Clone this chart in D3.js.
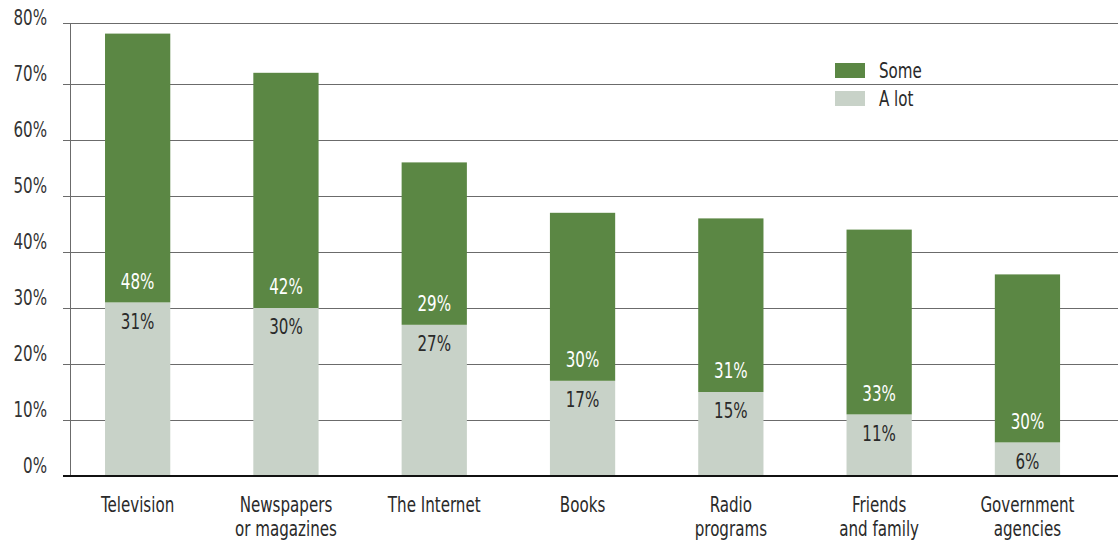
<!DOCTYPE html>
<html>
<head>
<meta charset="utf-8">
<script src="https://cdn.jsdelivr.net/npm/d3@7"></script>
<style>
  html, body { margin: 0; padding: 0; background: #fff; }
  svg text { font-family: "DejaVu Sans Condensed", "DejaVu Sans", sans-serif; }
</style>
</head>
<body>
<svg id="chart" width="1118" height="543"></svg>
<script>
// Source categories (multi-line labels split on "\n")
const categories = [
  "Television",
  "Newspapers\nor magazines",
  "The Internet",
  "Books",
  "Radio\nprograms",
  "Friends\nand family",
  "Government\nagencies"
];
// Share answering "A lot" and "Some" (percent)
const aLot = [31, 30, 27, 17, 15, 11, 6];
const some = [48, 42, 29, 30, 31, 33, 30];
const yTicks = [0, 10, 20, 30, 40, 50, 60, 70, 80];
const seriesNames = ["Some", "A lot"];

const colors = { "Some": "#5b8744", "A lot": "#c8d2c8" };

// Condensed look: squeeze glyphs horizontally
const SQUEEZE = 0.8;

const svg = d3.select("#chart");
const axisLeft = 70, plotRight = 1118, plotTop = 23;

const x = d3.scaleBand()
  .domain(categories)
  .range([63.5, 1101.6])
  .paddingInner(0.56)
  .paddingOuter(0.28);

const y = d3.scaleLinear().domain([0, 80]).range([476, 28]);

function place(sel, px, py) {
  return sel.attr("transform", (d, i) => `translate(${px(d, i)},${py(d, i)}) scale(${SQUEEZE},1)`);
}

// Grid lines (10%..70%) with short tick stubs left of the axis
const grid = svg.append("g");
grid.selectAll("line")
  .data(yTicks.filter(t => t > 0 && t < 80))
  .join("line")
  .attr("x1", 63).attr("x2", plotRight)
  .attr("y1", d => Math.round(y(d)) + 0.5).attr("y2", d => Math.round(y(d)) + 0.5)
  .attr("stroke", "#6b6b6b").attr("stroke-width", 1);

// Top frame line
grid.append("line")
  .attr("x1", 63).attr("x2", plotRight)
  .attr("y1", plotTop + 0.5).attr("y2", plotTop + 0.5)
  .attr("stroke", "#6b6b6b").attr("stroke-width", 1);

// Vertical axis line
grid.append("line")
  .attr("x1", axisLeft + 0.5).attr("x2", axisLeft + 0.5)
  .attr("y1", plotTop).attr("y2", y(0))
  .attr("stroke", "#6b6b6b").attr("stroke-width", 1);

// Y tick labels sit just above their grid line
place(
  svg.append("g").selectAll("text")
    .data(yTicks)
    .join("text")
    .attr("text-anchor", "end")
    .attr("font-size", 21)
    .attr("fill", "#333")
    .text(d => d + "%"),
  () => 47, d => y(d) - 3
);

// Stacked bars
const rows = categories.map((c, i) => ({ cat: c, aLot: aLot[i], some: some[i] }));
const bars = svg.append("g");
bars.selectAll("rect.alot")
  .data(rows)
  .join("rect")
  .attr("class", "alot")
  .attr("x", d => x(d.cat))
  .attr("width", x.bandwidth())
  .attr("y", d => y(d.aLot))
  .attr("height", d => y(0) - y(d.aLot))
  .attr("fill", colors["A lot"]);
bars.selectAll("rect.some")
  .data(rows)
  .join("rect")
  .attr("class", "some")
  .attr("x", d => x(d.cat))
  .attr("width", x.bandwidth())
  .attr("y", d => y(d.aLot + d.some))
  .attr("height", d => y(d.aLot) - y(d.aLot + d.some))
  .attr("fill", colors["Some"]);

// Value labels around the segment boundary
const cx = d => x(d.cat) + x.bandwidth() / 2;
const labels = svg.append("g").attr("font-size", 21).attr("text-anchor", "middle");
place(
  labels.selectAll("text.some")
    .data(rows)
    .join("text")
    .attr("class", "some")
    .attr("dy", "0.35em")
    .attr("fill", "#ffffff")
    .text(d => d.some + "%"),
  cx, d => y(d.aLot) - 21
);
place(
  labels.selectAll("text.alot")
    .data(rows)
    .join("text")
    .attr("class", "alot")
    .attr("dy", "0.35em")
    .attr("fill", "#2a2a2a")
    .text(d => d.aLot + "%"),
  cx, d => y(d.aLot) + 19
);

// Baseline
svg.append("line")
  .attr("x1", 63).attr("x2", plotRight)
  .attr("y1", y(0)).attr("y2", y(0))
  .attr("stroke", "#111").attr("stroke-width", 2);

// Category labels
const xl = svg.append("g").attr("font-size", 21).attr("text-anchor", "middle").attr("fill", "#2a2a2a");
categories.forEach(c => {
  const t = xl.append("text")
    .attr("transform", `translate(${x(c) + x.bandwidth() / 2},505) scale(${SQUEEZE},1)`);
  c.split("\n").forEach((line, i) => {
    t.append("tspan")
      .attr("x", 0)
      .attr("dy", i === 0 ? "0.35em" : 24)
      .text(line);
  });
});

// Legend
const legend = svg.append("g").attr("transform", "translate(835,63)");
seriesNames.forEach((s, i) => {
  legend.append("rect")
    .attr("x", 0).attr("y", i * 28)
    .attr("width", 30).attr("height", 15)
    .attr("fill", colors[s]);
  legend.append("text")
    .attr("transform", `translate(44,${i * 28 + 8}) scale(${SQUEEZE},1)`)
    .attr("dy", "0.35em")
    .attr("font-size", 21)
    .attr("fill", "#2a2a2a")
    .text(s);
});
</script>
</body>
</html>
